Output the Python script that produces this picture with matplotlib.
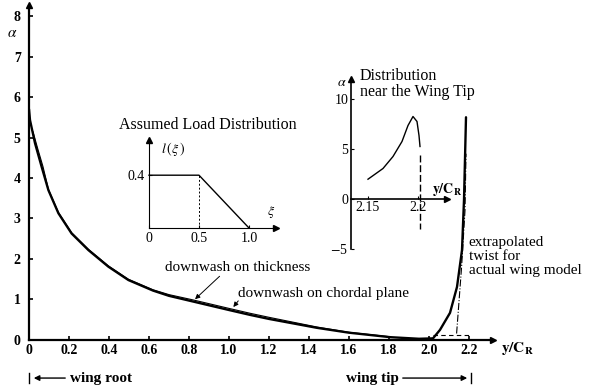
import matplotlib
matplotlib.use("Agg")
import matplotlib.pyplot as plt

plt.rcParams['font.family'] = ['Liberation Serif', 'DejaVu Serif']
plt.rcParams['mathtext.fontset'] = 'stix'

# Twist distribution along the span (main plot)
span_thick = [0.0, 0.005, 0.03, 0.063, 0.097, 0.147, 0.213, 0.297, 0.397, 0.497, 0.62,
              0.70, 0.82, 1.0, 1.105, 1.2, 1.44, 1.6, 1.805, 1.95, 2.02, 2.055, 2.105,
              2.14, 2.165, 2.175, 2.185]
alpha_thick = [5.7, 5.43, 4.86, 4.28, 3.70, 3.13, 2.63, 2.22, 1.81, 1.48, 1.22,
               1.09, 0.95, 0.74, 0.62, 0.52, 0.30, 0.18, 0.07, 0.03, 0.04, 0.25, 0.67,
               1.31, 2.22, 3.46, 5.5]

span_chord = [0.02, 0.045, 0.07, 0.097, 0.147, 0.213, 0.297, 0.397, 0.497, 0.62,
              0.70, 0.82, 1.0, 1.105, 1.2, 1.44, 1.6, 1.805]
alpha_chord = [5.14, 4.70, 4.28, 3.72, 3.15, 2.65, 2.24, 1.83, 1.50, 1.24,
               1.12, 0.99, 0.78, 0.66, 0.56, 0.32, 0.19, 0.08]

span_extrap = [2.138, 2.163, 2.18, 2.185]
alpha_extrap = [0.16, 1.81, 3.2, 4.6]

x_ticks = [0, 0.2, 0.4, 0.6, 0.8, 1.0, 1.2, 1.4, 1.6, 1.8, 2.0, 2.2]
x_ticklabels = ['0', '0.2', '0.4', '0.6', '0.8', '1.0', '1.2', '1.4', '1.6', '1.8', '2.0', '2.2']
y_ticks = [0, 1, 2, 3, 4, 5, 6, 7, 8]

# Assumed load distribution (inset)
xi = [0.0, 0.5, 1.0]
load = [0.4, 0.4, 0.0]

# Distribution near the wing tip (inset)
tip_span = [2.150, 2.165, 2.175, 2.184, 2.190, 2.195, 2.199, 2.201, 2.202]
tip_alpha = [1.93, 3.0, 4.2, 5.7, 7.3, 8.2, 7.7, 6.3, 5.2]

W, H = 597, 392
fig = plt.figure(figsize=(W / 100, H / 100), dpi=100)


def px_axes(left, top, right, bottom):
    return fig.add_axes([left / W, 1 - bottom / H, (right - left) / W, (bottom - top) / H])


# ---------------- main plot ----------------
ax = px_axes(29, 5, 500, 344)
ax.set_facecolor('none')
ax.set_xlim(0, 2.355)
ax.set_ylim(-0.099, 8.272)
for s in ['top', 'right']:
    ax.spines[s].set_visible(False)
ax.spines['left'].set_position(('data', 0))
ax.spines['bottom'].set_position(('data', 0))
ax.spines['left'].set_bounds(0, 8.25)
ax.spines['bottom'].set_bounds(0, 2.30)
for s in ['left', 'bottom']:
    ax.spines[s].set_linewidth(1.6)
ax.plot([0], [8.27], marker='^', color='black', markersize=5, clip_on=False)
ax.plot([2.32], [0], marker='>', color='black', markersize=5, clip_on=False)

ax.set_xticks(x_ticks)
ax.set_xticklabels(x_ticklabels, fontsize=10, fontweight='bold')
ax.set_yticks(y_ticks)
ax.set_yticklabels([str(v) for v in y_ticks], fontsize=10, fontweight='bold')
ax.tick_params(axis='both', direction='in', length=3, width=1.2)
ax.tick_params(axis='x', pad=3)
ax.tick_params(axis='y', pad=6)

ax.plot(span_chord, alpha_chord, color='black', lw=0.8)
ax.plot(span_thick, alpha_thick, color='black', lw=1.7, solid_joinstyle='round',
        solid_capstyle='round')
ax.plot(span_extrap, alpha_extrap, color='black', lw=0.8, ls='-.')
ax.plot([2.02, 2.2], [0.12, 0.12], color='black', lw=0.8, ls=(0, (4, 3)))

ax.text(-0.085, 7.58, r'$\alpha$', fontsize=11, ha='center', va='center')
ax.text(2.36, -0.2, r'$\mathbf{y/C_R}$', fontsize=11, ha='left', va='center', clip_on=False)

ax.text(0.68, 1.80, 'downwash on thickness', fontsize=11, ha='left', va='center')
ax.annotate('', xy=(0.82, 0.96), xytext=(0.963, 1.62),
            arrowprops=dict(arrowstyle='-|>', color='black', lw=0.7, mutation_scale=7))
ax.text(1.045, 1.16, 'downwash on chordal plane', fontsize=11, ha='left', va='center')
ax.annotate('', xy=(1.013, 0.76), xytext=(1.055, 1.02),
            arrowprops=dict(arrowstyle='-|>', color='black', lw=0.7, mutation_scale=7))
ax.text(2.198, 2.56, 'extrapolated\ntwist for\nactual wing model', fontsize=11,
        ha='left', va='top', linespacing=1.08, clip_on=False)

# span markers below the axis
yb = -0.94
ax.plot([0, 0], [yb - 0.13, yb + 0.13], color='black', lw=1.0, clip_on=False)
ax.annotate('', xy=(0.01, yb), xytext=(0.195, yb), annotation_clip=False,
            arrowprops=dict(arrowstyle='-|>', color='black', lw=1.0, mutation_scale=8))
ax.text(0.205, yb, 'wing root', fontsize=11, fontweight='bold', ha='left', va='center', clip_on=False)
ax.text(1.85, yb, 'wing tip', fontsize=11, fontweight='bold', ha='right', va='center', clip_on=False)
ax.annotate('', xy=(2.205, yb), xytext=(1.855, yb), annotation_clip=False,
            arrowprops=dict(arrowstyle='-|>', color='black', lw=1.0, mutation_scale=8))
ax.plot([2.21, 2.21], [yb - 0.13, yb + 0.13], color='black', lw=1.0, clip_on=False)

# ---------------- inset: assumed load distribution ----------------
a1 = px_axes(149, 135, 280, 228)
a1.set_facecolor('none')
a1.set_xlim(0, 1.31)
a1.set_ylim(0, 0.7045)
for s in ['top', 'right']:
    a1.spines[s].set_visible(False)
a1.spines['left'].set_bounds(0, 0.66)
a1.spines['bottom'].set_bounds(0, 1.26)
a1.plot([0], [0.667], marker='^', color='black', markersize=4, clip_on=False)
a1.plot([1.27], [0], marker='>', color='black', markersize=4, clip_on=False)
a1.set_xticks([0, 0.5, 1.0])
a1.set_xticklabels(['0', '0.5', '1.0'], fontsize=10)
a1.set_yticks([0.4])
a1.set_yticklabels(['0.4'], fontsize=10)
a1.tick_params(axis='both', direction='in', length=2, width=0.8, pad=3)
a1.plot(xi, load, color='black', lw=1.0, clip_on=False)
a1.plot([0.5, 0.5], [0, 0.4], color='black', lw=0.7, ls=(0, (2, 2)))
a1.text(0.12, 0.6, r'$l\,(\xi\,)$', fontsize=10, ha='left', va='center')
a1.text(1.22, 0.12, r'$\xi$', fontsize=10, ha='center', va='center')
a1.text(0.59, 0.78, 'Assumed Load Distribution', fontsize=11.5, ha='center', va='center',
        clip_on=False)

# ---------------- inset: distribution near the wing tip ----------------
a2 = px_axes(351, 78, 460, 255)
a2.set_facecolor('none')
a2.set_xlim(2.133, 2.242)
a2.set_ylim(-5.65, 12.05)
for s in ['top', 'right']:
    a2.spines[s].set_visible(False)
a2.spines['bottom'].set_position(('data', 0))
a2.spines['left'].set_bounds(-5, 11.9)
a2.spines['bottom'].set_bounds(2.133, 2.228)
for s in ['left', 'bottom']:
    a2.spines[s].set_linewidth(1.2)
a2.plot([2.133], [12.0], marker='^', color='black', markersize=4, clip_on=False)
a2.plot([2.229], [0], marker='>', color='black', markersize=4, clip_on=False)
a2.set_xticks([2.15, 2.2])
a2.set_xticklabels(['2.15', '2.2'], fontsize=10)
a2.set_yticks([-5, 0, 5, 10])
a2.set_yticklabels(['$-$5', '0', '5', '10'], fontsize=10)
a2.tick_params(axis='both', direction='in', length=2, width=0.8, pad=2)
a2.plot(tip_span, tip_alpha, color='black', lw=1.0)
a2.plot([2.202, 2.202], [4.4, -3.0], color='black', lw=1.0, ls=(0, (5, 2)))
a2.text(2.124, 11.6, r'$\alpha$', fontsize=10, ha='center', va='center', clip_on=False)
a2.text(2.214, 0.85, r'$\mathbf{y/C_R}$', fontsize=10, ha='left', va='center', clip_on=False)
a2.text(2.142, 11.45, 'Distribution\nnear the Wing Tip', fontsize=11.5, ha='left', va='center',
        linespacing=1.05, clip_on=False)

fig.savefig('out.png', dpi=100)
